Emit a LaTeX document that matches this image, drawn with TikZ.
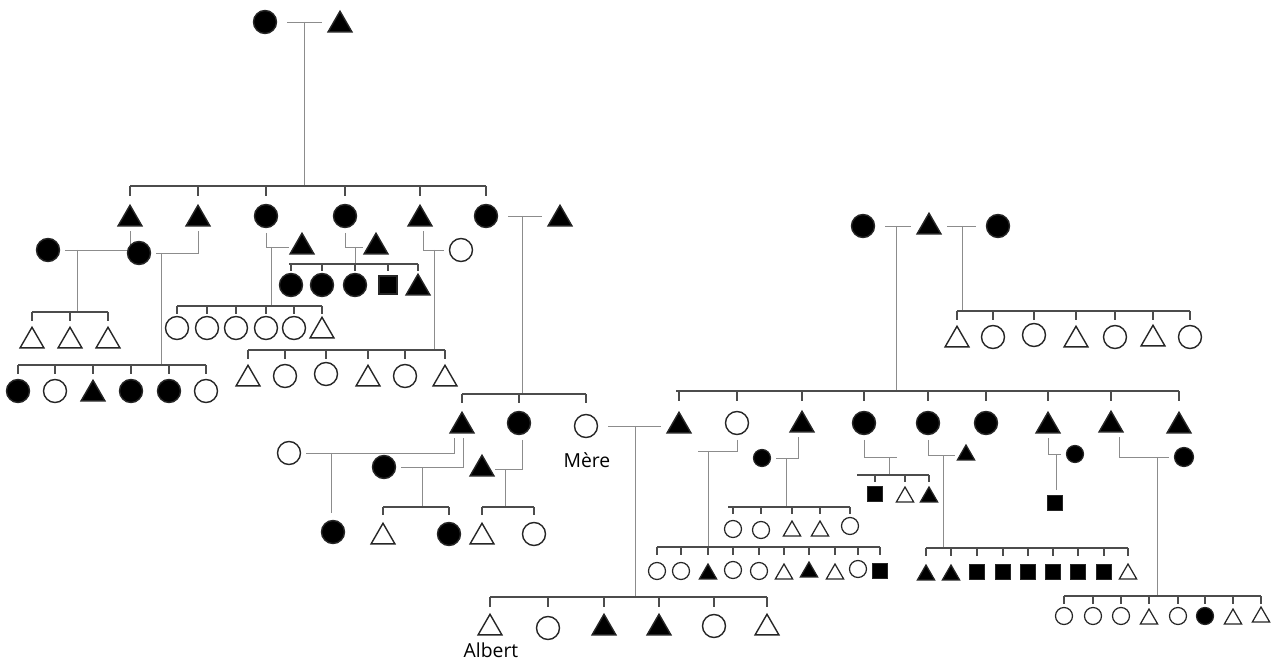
\documentclass[tikz,border=0pt]{standalone}
\usepackage{fontspec}
\setmainfont{Open Sans}
\usepackage{tikz}
\usetikzlibrary{shapes.geometric}

\tikzset{
 pers/.style={inner sep=0pt, outer sep=0pt, line width=0.8pt, draw=black!85},
 fcirc/.style={pers, circle, minimum size=0.46cm, fill=black},
 ocirc/.style={pers, circle, minimum size=0.46cm, fill=white},
 ftri/.style={pers, regular polygon, regular polygon sides=3, minimum size=0.55cm, fill=black},
 otri/.style={pers, regular polygon, regular polygon sides=3, minimum size=0.55cm, fill=white},
 fsq/.style={pers, rectangle, minimum size=0.36cm, fill=black},
 sfcirc/.style={fcirc, minimum size=0.34cm, line width=0.7pt},
 socirc/.style={ocirc, minimum size=0.34cm, line width=0.7pt},
 sftri/.style={ftri, minimum size=0.40cm, line width=0.7pt},
 sotri/.style={otri, minimum size=0.40cm, line width=0.7pt},
 sfsq/.style={fsq, minimum size=0.30cm, line width=0.7pt},
 lien/.style={draw=black!45, line width=0.55pt},
 couple/.style={lien, shorten <=3pt, shorten >=3pt},
 mar/.style={lien, shorten <=6pt, shorten >=6pt},
 barre/.style={draw=black!70, line width=0.7pt},
 txt/.style={font=\fontsize{11}{13}\selectfont, inner sep=0pt}
}

\begin{document}
\begin{tikzpicture}[x=0.02cm, y=-0.02cm]
 \useasboundingbox (0,0) rectangle (1279,662);

 \node[fcirc] (gm) at (265,22) {};
 \node[ftri] (gp) at (340,25) {};
 \coordinate (u0) at (304,22);
 \coordinate (b0) at (130,186);
 \node[ftri] (a1) at (130,219) {};
 \node[ftri] (a2) at (198,219) {};
 \node[fcirc] (a3) at (266,216) {};
 \node[fcirc] (a4) at (345,216) {};
 \node[ftri] (a5) at (420,219) {};
 \node[fcirc] (a6) at (486,216) {};
 \node[ftri] (s6) at (560,219) {};
 \draw[mar] (gm.east) -- (gm.east -| gp.west);
 \draw[lien] (u0) -- (u0 |- b0);
 \draw[barre] (b0) -- (a6 |- b0);
 \foreach \k in {a1,a2,a3,a4,a5,a6} \draw[barre] (\k |- b0) -- ++(0,10);

 \node[fcirc] (s1) at (48,250) {};
 \coordinate (u1) at (77,250);
 \coordinate (b1) at (32,312);
 \node[otri] (k1a) at (32,341) {};
 \node[otri] (k1b) at (70,341) {};
 \node[otri] (k1c) at (108,341) {};
 \draw[couple] (a1.south) |- (s1.east);
 \draw[lien] (u1) -- (u1 |- b1);
 \draw[barre] (b1) -- (k1c |- b1);
 \foreach \k in {k1a,k1b,k1c} \draw[barre] (\k |- b1) -- ++(0,9);

 \node[fcirc] (s2) at (139,253) {};
 \coordinate (u2) at (161,253);
 \coordinate (b2) at (18,365);
 \node[fcirc] (k2a) at (18,391) {};
 \node[ocirc] (k2b) at (55,391) {};
 \node[ftri] (k2c) at (93,394) {};
 \node[fcirc] (k2d) at (131,391) {};
 \node[fcirc] (k2e) at (169,391) {};
 \node[ocirc] (k2f) at (206,391) {};
 \draw[couple] (a2.south) |- (s2.east);
 \draw[lien] (u2) -- (u2 |- b2);
 \draw[barre] (b2) -- (k2f |- b2);
 \foreach \k in {k2a,k2b,k2c,k2d,k2e,k2f} \draw[barre] (\k |- b2) -- ++(0,9);

 \node[ftri] (s3) at (302,247) {};
 \coordinate (u3) at (271,247);
 \coordinate (b3) at (177,306);
 \node[ocirc] (k3a) at (177,328) {};
 \node[ocirc] (k3b) at (207,328) {};
 \node[ocirc] (k3c) at (236,328) {};
 \node[ocirc] (k3d) at (266,328) {};
 \node[ocirc] (k3e) at (294,328) {};
 \node[otri] (k3f) at (322,331) {};
 \draw[couple] (a3.south) |- (s3.west);
 \draw[lien] (u3) -- (u3 |- b3);
 \draw[barre] (b3) -- (k3f |- b3);
 \foreach \k in {k3a,k3b,k3c,k3d,k3e,k3f} \draw[barre] (\k |- b3) -- ++(0,8);

 \node[ftri] (s4) at (376,247) {};
 \coordinate (u4) at (355,247);
 \coordinate (b4) at (289,264);
 \node[fcirc] (k4a) at (291,285) {};
 \node[fcirc] (k4b) at (322,285) {};
 \node[fcirc] (k4c) at (355,285) {};
 \node[fsq] (k4d) at (388,285) {};
 \node[ftri] (k4e) at (418,288) {};
 \draw[couple] (a4.south) |- (s4.west);
 \draw[lien] (u4) -- (u4 |- b4);
 \draw[barre] (b4) -- (k4e |- b4);
 \foreach \k in {k4a,k4b,k4c,k4d,k4e} \draw[barre] (\k |- b4) -- ++(0,7);

 \node[ocirc] (s5) at (461,250) {};
 \coordinate (u5) at (434,250);
 \coordinate (b5) at (248,350);
 \node[otri] (k5a) at (248,379) {};
 \node[ocirc] (k5b) at (285,376) {};
 \node[ocirc] (k5c) at (326,374) {};
 \node[otri] (k5d) at (368,379) {};
 \node[ocirc] (k5e) at (405,376) {};
 \node[otri] (k5f) at (445,379) {};
 \draw[couple] ([xshift=2pt]a5.south) |- (s5.west);
 \draw[lien] (u5) -- (u5 |- b5);
 \draw[barre] (b5) -- (k5f |- b5);
 \foreach \k in {k5a,k5b,k5c,k5d,k5e,k5f} \draw[barre] (\k |- b5) -- ++(0,9);

 \coordinate (u6) at (522,216);
 \coordinate (b6) at (462,394);
 \node[ftri] (c1) at (462,426) {};
 \node[fcirc] (c2) at (519,423) {};
 \node[ocirc] (mere) at (586,426) {};
 \node[txt] (lmere) at (587,460) {Mère};
 \draw[mar] (a6.east) -- (a6.east -| s6.west);
 \draw[lien] (u6) -- (u6 |- b6);
 \draw[barre] (b6) -- (mere |- b6);
 \foreach \k in {c1,c2,mere} \draw[barre] (\k |- b6) -- ++(0,9);

 \node[ocirc] (w1) at (289,453) {};
 \coordinate (u7) at (331,453);
 \node[fcirc] (d1) at (333,532) {};
 \draw[couple] ([xshift=-4pt]c1.south) |- (w1.east);
 \draw[lien, shorten >=4pt] (u7) -- (u7 |- d1.north);

 \node[fcirc] (w2) at (384,467) {};
 \coordinate (u8) at (422,467);
 \coordinate (b8) at (383,507);
 \node[otri] (d2) at (383,537) {};
 \node[fcirc] (d3) at (449,534) {};
 \draw[couple] ([xshift=1pt]c1.south) |- (w2.east);
 \draw[lien] (u8) -- (u8 |- b8);
 \draw[barre] (b8) -- (d3 |- b8);
 \foreach \k in {d2,d3} \draw[barre] (\k |- b8) -- ++(0,8);

 \node[ftri] (w3) at (482,469) {};
 \coordinate (u9) at (505,469);
 \coordinate (b9) at (482,507);
 \node[otri] (d4) at (482,537) {};
 \node[ocirc] (d5) at (534,534) {};
 \draw[couple] ([xshift=2pt]c2.south) |- (w3.east);
 \draw[lien] (u9) -- (u9 |- b9);
 \draw[barre] (b9) -- (d5 |- b9);
 \foreach \k in {d4,d5} \draw[barre] (\k |- b9) -- ++(0,8);

 \node[fcirc] (rg1) at (863,226) {};
 \node[ftri] (rg2) at (929,227) {};
 \node[fcirc] (rg3) at (998,226) {};
 \coordinate (u11) at (896,226);
 \coordinate (b11) at (676,391);
 \coordinate (u12) at (962,226);
 \coordinate (b12) at (957,311);
 \node[ftri] (r1) at (679,426) {};
 \node[ocirc] (r2) at (737,423) {};
 \node[ftri] (r3) at (802,425) {};
 \node[fcirc] (r4) at (864,423) {};
 \node[fcirc] (r5) at (928,423) {};
 \node[fcirc] (r6) at (986,423) {};
 \node[ftri] (r7) at (1048,426) {};
 \node[ftri] (r8) at (1111,425) {};
 \node[ftri] (r9) at (1179,426) {};
 \node[otri] (q1) at (957,340) {};
 \node[ocirc] (q2) at (993,337) {};
 \node[ocirc] (q3) at (1034,335) {};
 \node[otri] (q4) at (1076,340) {};
 \node[ocirc] (q5) at (1115,337) {};
 \node[otri] (q6) at (1153,339) {};
 \node[ocirc] (q7) at (1190,337) {};
 \draw[mar] (rg1.east) -- (rg1.east -| rg2.west);
 \draw[mar] (rg3.west) -- (rg3.west -| rg2.east);
 \draw[lien] (u11) -- (u11 |- b11);
 \draw[barre] (b11) -- (r9 |- b11);
 \foreach \k in {r1,r2,r3,r4,r5,r6,r7,r8,r9} \draw[barre] (\k |- b11) -- ++(0,10);
 \draw[lien] (u12) -- (u12 |- b12);
 \draw[barre] (b12) -- (q7 |- b12);
 \foreach \k in {q1,q2,q3,q4,q5,q6,q7} \draw[barre] (\k |- b12) -- ++(0,9);

 \coordinate (u10) at (635,426);
 \coordinate (b10) at (490,597);
 \node[otri] (e1) at (490,628) {};
 \node[ocirc] (e2) at (548,628) {};
 \node[ftri] (e3) at (604,628) {};
 \node[ftri] (e4) at (659,628) {};
 \node[ocirc] (e5) at (714,626) {};
 \node[otri] (e6) at (767,628) {};
 \node[txt] (lalbert) at (491,650) {Albert};
 \draw[mar] (mere.east) -- (mere.east -| r1.west);
 \draw[lien] (u10) -- (u10 |- b10);
 \draw[barre] (b10) -- (e6 |- b10);
 \foreach \k in {e1,e2,e3,e4,e5,e6} \draw[barre] (\k |- b10) -- ++(0,10);

 \coordinate (v2) at (698,451);
 \coordinate (u13) at (708,451);
 \coordinate (b13) at (657,547);
 \node[socirc] (h1) at (657,571) {};
 \node[socirc] (h2) at (681,571) {};
 \node[sftri] (h3) at (708,574) {};
 \node[socirc] (h4) at (733,570) {};
 \node[socirc] (h5) at (759,571) {};
 \node[sotri] (h6) at (784,574) {};
 \node[sftri] (h7) at (809,572) {};
 \node[sotri] (h8) at (835,574) {};
 \node[socirc] (h9) at (858,569) {};
 \node[sfsq] (h10) at (880,571) {};
 \draw[lien, shorten <=3pt] (r2.south) |- (v2);
 \draw[lien] (u13) -- (u13 |- b13);
 \draw[barre] (b13) -- (h10 |- b13);
 \foreach \k in {h1,h2,h3,h4,h5,h6,h7,h8,h9,h10} \draw[barre] (\k |- b13) -- ++(0,8);

 \node[sfcirc] (p3) at (762,458) {};
 \coordinate (u14) at (786,458);
 \coordinate (b14) at (728,507);
 \node[socirc] (i1) at (733,529) {};
 \node[socirc] (i2) at (761,530) {};
 \node[sotri] (i3) at (792,531) {};
 \node[sotri] (i4) at (820,531) {};
 \node[socirc] (i5) at (850,526) {};
 \draw[couple] ([xshift=-2pt]r3.south) |- (p3.east);
 \draw[lien] (u14) -- (u14 |- b14);
 \draw[barre] (b14) -- (i5 |- b14);
 \foreach \k in {i1,i2,i3,i4,i5} \draw[barre] (\k |- b14) -- ++(0,7);

 \coordinate (v4) at (897,457);
 \coordinate (u15) at (889,457);
 \coordinate (b15) at (857,475);
 \node[sfsq] (j1) at (875,494) {};
 \node[sotri] (j2) at (905,497) {};
 \node[sftri] (j3) at (929,497) {};
 \draw[lien, shorten <=3pt] (r4.south) |- (v4);
 \draw[lien] (u15) -- (u15 |- b15);
 \draw[barre] (b15) -- (j3 |- b15);
 \foreach \k in {j1,j2,j3} \draw[barre] (\k |- b15) -- ++(0,7);

 \node[sftri] (p5) at (966,455) {};
 \coordinate (u16) at (943,455);
 \coordinate (b16) at (926,548);
 \node[sftri] (l1) at (926,575) {};
 \node[sftri] (l2) at (951,575) {};
 \node[sfsq] (l3) at (977,572) {};
 \node[sfsq] (l4) at (1003,572) {};
 \node[sfsq] (l5) at (1028,572) {};
 \node[sfsq] (l6) at (1053,572) {};
 \node[sfsq] (l7) at (1078,572) {};
 \node[sfsq] (l8) at (1104,572) {};
 \node[sotri] (l9) at (1128,574) {};
 \draw[couple] (r5.south) |- (p5.west);
 \draw[lien] (u16) -- (u16 |- b16);
 \draw[barre] (b16) -- (l9 |- b16);
 \foreach \k in {l1,l2,l3,l4,l5,l6,l7,l8,l9} \draw[barre] (\k |- b16) -- ++(0,8);

 \node[sfcirc] (p7) at (1075,454) {};
 \coordinate (u17) at (1056,454);
 \node[sfsq] (g1) at (1055,503) {};
 \draw[couple] (r7.south) |- (p7.west);
 \draw[lien, shorten >=3pt] (u17) -- (u17 |- g1.north);

 \node[sfcirc, minimum size=0.38cm] (p8) at (1184,457) {};
 \coordinate (u18) at (1157,457);
 \coordinate (b18) at (1064,596);
 \node[socirc] (m1) at (1064,616) {};
 \node[socirc] (m2) at (1093,616) {};
 \node[socirc] (m3) at (1121,616) {};
 \node[sotri] (m4) at (1149,619) {};
 \node[socirc] (m5) at (1178,616) {};
 \node[sfcirc] (m6) at (1205,616) {};
 \node[sotri] (m7) at (1233,619) {};
 \node[sotri] (m8) at (1261,617) {};
 \draw[couple] ([xshift=5pt]r8.south) |- (p8.west);
 \draw[lien] (u18) -- (u18 |- b18);
 \draw[barre] (b18) -- (m8 |- b18);
 \foreach \k in {m1,m2,m3,m4,m5,m6,m7,m8} \draw[barre] (\k |- b18) -- ++(0,8);
\end{tikzpicture}
\end{document}
